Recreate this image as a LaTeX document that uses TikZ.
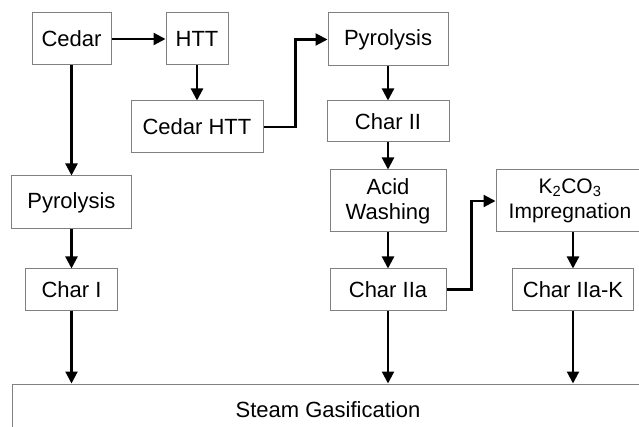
\documentclass[tikz,border=0pt]{standalone}
\usepackage{fontspec}
\setmainfont{Liberation Sans}
\usetikzlibrary{arrows.meta}

\definecolor{boxgray}{gray}{0.5}

\tikzset{
    procbox/.style={draw=boxgray, line width=1pt, align=center, inner sep=2pt,
        font=\fontsize{22}{25}\selectfont},
    flow/.style={-{Triangle[length=12pt, width=12pt]}, line width=2.2pt}
}

\begin{document}
\begin{tikzpicture}[x=1pt, y=-1pt]
        \useasboundingbox (0,0) rectangle (639,427);
        \clip (0,0) rectangle (639,427);

        % Left branch
        \node[procbox, minimum width=79pt, minimum height=52pt] (cedar) at (71.5,39) {Cedar};
        \node[procbox, minimum width=62pt, minimum height=52pt] (htt) at (197,39) {HTT};
        \node[procbox, minimum width=132pt, minimum height=52pt] (cedarhtt) at (197,127) {Cedar HTT};
        \node[procbox, minimum width=120pt, minimum height=53pt] (pyroI) at (71.5,202.5) {Pyrolysis};
        \node[procbox, minimum width=92pt, minimum height=41pt] (charI) at (71.5,289.5) {Char I};

        % Middle branch
        \node[procbox, minimum width=120pt, minimum height=53pt] (pyroII) at (388,39.5) {Pyrolysis};
        \node[procbox, minimum width=122pt, minimum height=41pt] (charII) at (388,121.5) {Char II};
        \node[procbox, minimum width=116pt, minimum height=62pt] (acid) at (388,201) {Acid\\Washing};
        \node[procbox, minimum width=116pt, minimum height=41pt] (charIIa) at (388,289.5) {Char IIa};

        % Right branch
        \node[procbox, font=\fontsize{21}{25}\selectfont, minimum width=148pt, minimum height=62pt] (kco) at (570,201) {K\textsubscript{2}CO\textsubscript{3}\\Impregnation};
        \node[procbox, minimum width=121pt, minimum height=41pt] (charIIaK) at (573,289.5) {Char IIa-K};

        % Gasification
        \node[procbox, minimum width=632pt, minimum height=52pt] (steam) at (328,410) {Steam Gasification};

        % Connectors
        \draw[flow] (cedar) -- (htt);
        \draw[flow] (htt) -- (cedarhtt);
        \draw[flow] (cedar) -- (pyroI);
        \draw[flow] (pyroI) -- (charI);
        \draw[flow] (charI.south) -- (charI.south |- steam.north);
        \draw[flow] (cedarhtt.east) -- ++(32,0) |- (pyroII.west);
        \draw[flow] (pyroII) -- (charII);
        \draw[flow] (charII) -- (acid);
        \draw[flow] (acid) -- (charIIa);
        \draw[flow] (charIIa.south) -- (charIIa.south |- steam.north);
        \draw[flow] (charIIa.east) -- ++(25,0) |- (kco.west);
        \draw[flow] (kco.south -| charIIaK) -- (charIIaK);
        \draw[flow] (charIIaK.south) -- (charIIaK.south |- steam.north);
    \end{tikzpicture}
\end{document}
